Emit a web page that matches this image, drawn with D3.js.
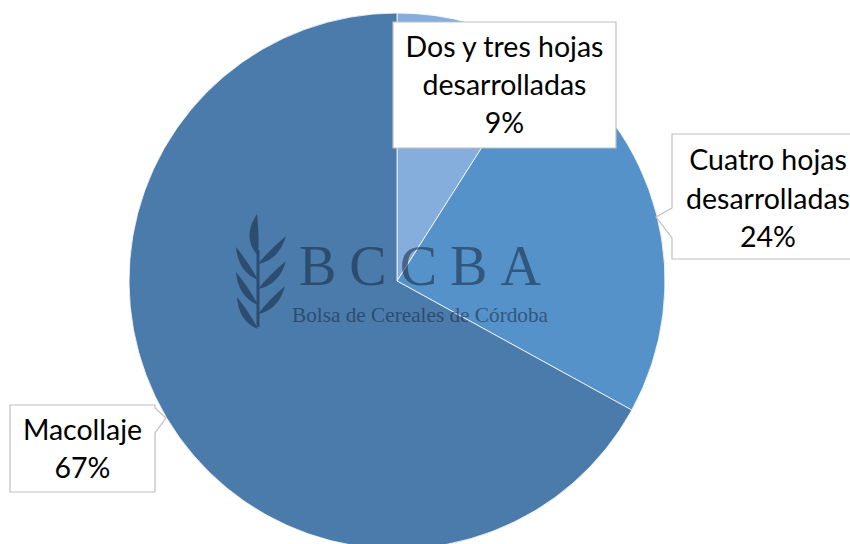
<!DOCTYPE html>
<html><head><meta charset="utf-8">
<script src="https://cdn.jsdelivr.net/npm/d3@7"></script>
<style>html,body{margin:0;padding:0;background:#fff;overflow:hidden}</style>
</head><body>
<svg id="c" width="850" height="544"></svg>
<script>
const categories = ["Dos y tres hojas desarrolladas", "Cuatro hojas desarrolladas", "Macollaje"];
const values = [9, 24, 67];
const colors = ["#86AEDC", "#5592C9", "#4A7BAB"];

const svg = d3.select("#c");
const cx = 397, cy = 281, R = 268;
const g = svg.append("g").attr("transform", `translate(${cx},${cy})`);
const pie = d3.pie().sort(null).value(d => d);
const arc = d3.arc().innerRadius(0).outerRadius(R);
g.selectAll("path").data(pie(values)).join("path")
  .attr("d", arc).attr("fill", (d, i) => colors[i])
  .attr("stroke", "#fff").attr("stroke-width", 0.8);

// watermark
const wm = svg.append("g").attr("fill", "#14283F").attr("opacity", 0.55);
function leaf(bx, by, tx, ty, w1, w2) {
  const dx = tx - bx, dy = ty - by, L = Math.hypot(dx, dy);
  const px = -dy / L, py = dx / L;
  const mx = bx + dx * 0.45, my = by + dy * 0.45;
  wm.append("path").attr("d",
    `M${bx},${by} Q${mx + px * w1},${my + py * w1} ${tx},${ty} Q${mx - px * w2},${my - py * w2} ${bx},${by}Z`);
}
wm.append("path").attr("d", "M256.5,327 L256.5,250 L259.5,250 L259.5,327Z");
leaf(258, 256, 257, 214, 2, 16);
[[258, 264, 286, 236], [258, 289, 286, 261], [258, 314, 285, 286]].forEach(p => leaf(p[0], p[1], p[2], p[3], 12, 2));
[[258, 280, 236, 247], [258, 305, 236, 272], [258, 329, 237, 297]].forEach(p => leaf(p[0], p[1], p[2], p[3], 2, 12));
wm.append("text").attr("x", 299).attr("y", 285)
  .attr("font-family", "Liberation Serif, serif").attr("font-size", 56)
  .attr("letter-spacing", 13).text("BCCBA");
wm.append("text").attr("x", 292).attr("y", 322)
  .attr("font-family", "Liberation Serif, serif").attr("font-size", 22)
  .attr("textLength", 256).attr("lengthAdjust", "spacingAndGlyphs")
  .text("Bolsa de Cereales de Córdoba");

// labels
const total = d3.sum(values);
const pct = v => Math.round(v / total * 100) + "%";
const labels = [
  {path: "M393,22 H616 V148 H393 Z", x: 504.5, lines: ["Dos y tres hojas", "desarrolladas", pct(values[0])], ys: [57, 95, 133]},
  {path: "M672,134 H866 V259 H672 V238 L656,217 L672,208 Z", x: 768, lines: ["Cuatro hojas", "desarrolladas", pct(values[1])], ys: [170, 209, 247]},
  {path: "M10,405 H155 V408 L166,418 L155,433 V492 H10 Z", x: 82.5, lines: ["Macollaje", pct(values[2])], ys: [440, 478]}
];
labels.forEach(l => {
  svg.append("path").attr("d", l.path).attr("fill", "#fff").attr("stroke", "#BFBFBF").attr("stroke-width", 1.2);
  l.lines.forEach((t, i) => {
    svg.append("text").attr("x", l.x).attr("y", l.ys[i]).attr("text-anchor", "middle")
      .attr("font-family", "Lato, sans-serif").attr("font-size", 28.5).attr("fill", "#000").text(t);
  });
});
</script>
</body></html>
